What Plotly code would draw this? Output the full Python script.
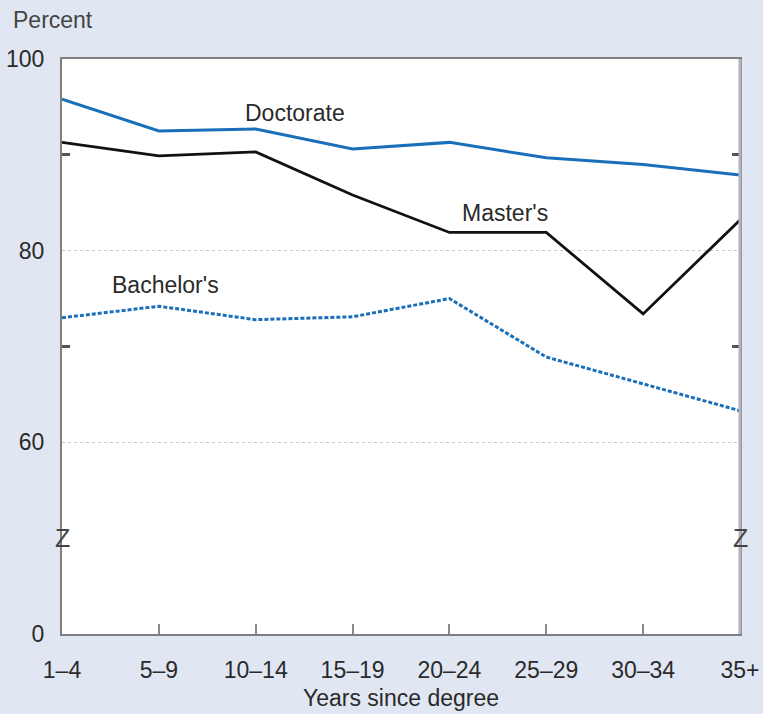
import plotly.graph_objects as go

categories = ["1\u20134", "5\u20139", "10\u201314", "15\u201319", "20\u201324", "25\u201329", "30\u201334", "35+"]
doctorate = [95.8, 92.5, 92.7, 90.6, 91.3, 89.7, 89.0, 87.9]
masters = [91.3, 89.9, 90.3, 85.8, 81.9, 81.9, 73.4, 83.2]
bachelors = [73.0, 74.2, 72.8, 73.1, 75.0, 68.9, 66.1, 63.3]

ytick_vals = [40, 60, 80, 100]
ytick_text = ["0", "60", "80", "100"]

BLUE = "#1a6fba"
FONT = "Liberation Sans, Arial, sans-serif"
TXT = "#2a2a2a"
FS = 23
x_idx = list(range(len(categories)))

fig = go.Figure()
fig.add_trace(go.Scatter(x=x_idx, y=bachelors, mode="lines",
                         line=dict(color=BLUE, width=3, dash="4px,2px"), name="Bachelor's"))
fig.add_trace(go.Scatter(x=x_idx, y=masters, mode="lines",
                         line=dict(color="#111111", width=2.8), name="Master's"))
fig.add_trace(go.Scatter(x=x_idx, y=doctorate, mode="lines",
                         line=dict(color=BLUE, width=3), name="Doctorate"))

fig.update_layout(
    width=763, height=714,
    margin=dict(l=62, r=23, t=59, b=80),
    paper_bgcolor="#e0e7f3",
    plot_bgcolor="#ffffff",
    showlegend=False,
    font=dict(family=FONT, size=FS, color=TXT),
    xaxis=dict(
        range=[0, len(categories) - 1], automargin=False,
        tickmode="array", tickvals=x_idx, ticktext=categories,
        ticks="inside", ticklen=10, tickwidth=2, tickcolor="#8a8a8a",
        showline=True, linecolor="#7f7f7f", linewidth=2, mirror=True,
        showgrid=False, zeroline=False,
        ticklabelstandoff=14,
        title=dict(text="Years since degree", standoff=8, font=dict(size=FS, color=TXT)),
    ),
    yaxis=dict(
        range=[40, 100], automargin=False,
        tickmode="array", tickvals=ytick_vals, ticktext=ytick_text,
        ticks="", showline=True, linecolor="#7f7f7f", linewidth=2, mirror="allticks",
        showgrid=True, gridcolor="#c8c8c8", gridwidth=1, griddash="dot",
        zeroline=False, ticklabelstandoff=11,
        minor=dict(tickmode="array", tickvals=[70, 90], ticks="inside",
                   ticklen=8, tickwidth=3, tickcolor="#555555", showgrid=False),
    ),
)

# right border lighter
fig.add_shape(type="line", xref="paper", yref="paper", x0=1, x1=1, y0=0, y1=1,
              line=dict(color="#b0b4c0", width=3))

fig.add_annotation(text="Percent", xref="paper", yref="paper", x=-0.075, y=1.068,
                   xanchor="left", yanchor="middle", showarrow=False,
                   font=dict(size=FS, color="#444444"))

fig.add_annotation(text="Doctorate", x=2.41, y=94.4, showarrow=False,
                   font=dict(size=FS, color=TXT))
fig.add_annotation(text="Master's", x=4.57, y=83.9, showarrow=False,
                   font=dict(size=FS, color=TXT))
fig.add_annotation(text="Bachelor's", x=1.07, y=76.4, showarrow=False,
                   font=dict(size=FS, color=TXT))

for xv in [0, len(categories) - 1]:
    fig.add_annotation(text="Z", x=xv, y=50, showarrow=False,
                       font=dict(size=25, color="#444444"))

fig.write_html("out.html", config={"displayModeBar": False},
               post_script="document.body.style.margin='0';document.body.style.overflow='hidden';")
